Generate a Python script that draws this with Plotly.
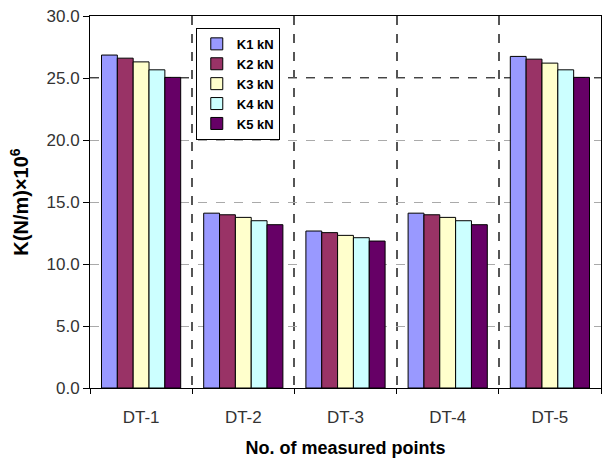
import plotly.graph_objects as go

categories = ["DT-1", "DT-2", "DT-3", "DT-4", "DT-5"]
series_names = ["K1 kN", "K2 kN", "K3 kN", "K4 kN", "K5 kN"]
k1 = [26.85, 14.10, 12.66, 14.10, 26.74]
k2 = [26.60, 13.97, 12.53, 13.97, 26.52]
k3 = [26.30, 13.76, 12.31, 13.76, 26.20]
k4 = [25.66, 13.49, 12.12, 13.49, 25.66]
k5 = [25.05, 13.17, 11.85, 13.17, 25.05]
series_values = [k1, k2, k3, k4, k5]
colors = ["#9999FF", "#993366", "#FFFFCC", "#CCFFFF", "#660066"]
y_ticks = [0, 5, 10, 15, 20, 25, 30]
y_tick_labels = ["0.0", "5.0", "10.0", "15.0", "20.0", "25.0", "30.0"]

fig = go.Figure()
for name, vals, col in zip(series_names, series_values, colors):
    fig.add_trace(go.Bar(x=categories, y=vals, name=name,
                         marker=dict(color=col, line=dict(color="#000000", width=1))))

font_fam = "Liberation Sans, Arial, sans-serif"
fig.update_layout(
    width=606, height=458,
    margin=dict(l=90, r=5, t=16, b=70),
    paper_bgcolor="white", plot_bgcolor="white",
    barmode="group", bargap=0.225, bargroupgap=0,
    font=dict(family=font_fam, size=12, color="#222"),
    showlegend=True,
    legend=dict(x=0.207, y=0.968, xanchor="left", yanchor="top",
                bgcolor="white", bordercolor="#000", borderwidth=1,
                font=dict(family=font_fam, size=13, color="#000", weight="bold"),
                itemwidth=30, tracegroupgap=0),
    xaxis=dict(
        type="category", tickson="boundaries", automargin=False,
        showline=True, linecolor="#000", linewidth=1, mirror=True,
        ticks="outside", ticklen=5, tickcolor="#000",
        showgrid=True, gridcolor="#555", griddash="dash", gridwidth=1.5,
        tickfont=dict(size=17, color="#333"),
        ticklabelstandoff=14,
        title=dict(text="No. of measured points", standoff=30,
                   font=dict(size=18, color="#000", weight="bold")),
    ),
    yaxis=dict(
        range=[0, 30], tickvals=y_ticks, ticktext=y_tick_labels, automargin=False,
        showline=True, linecolor="#000", linewidth=1, mirror=True,
        ticks="outside", ticklen=6, tickcolor="#000",
        showgrid=True, gridcolor="#aaa", griddash="dash", gridwidth=1,
        zeroline=False,
        tickfont=dict(size=17, color="#333"),
        title=dict(text="K(N/m)×10<sup>6</sup>", standoff=12,
                   font=dict(size=20, color="#000", weight="bold")),
    ),
)
fig.add_hline(y=25, line=dict(color="#444", width=2, dash="dash"), layer="below")
fig.write_html("out.html")
